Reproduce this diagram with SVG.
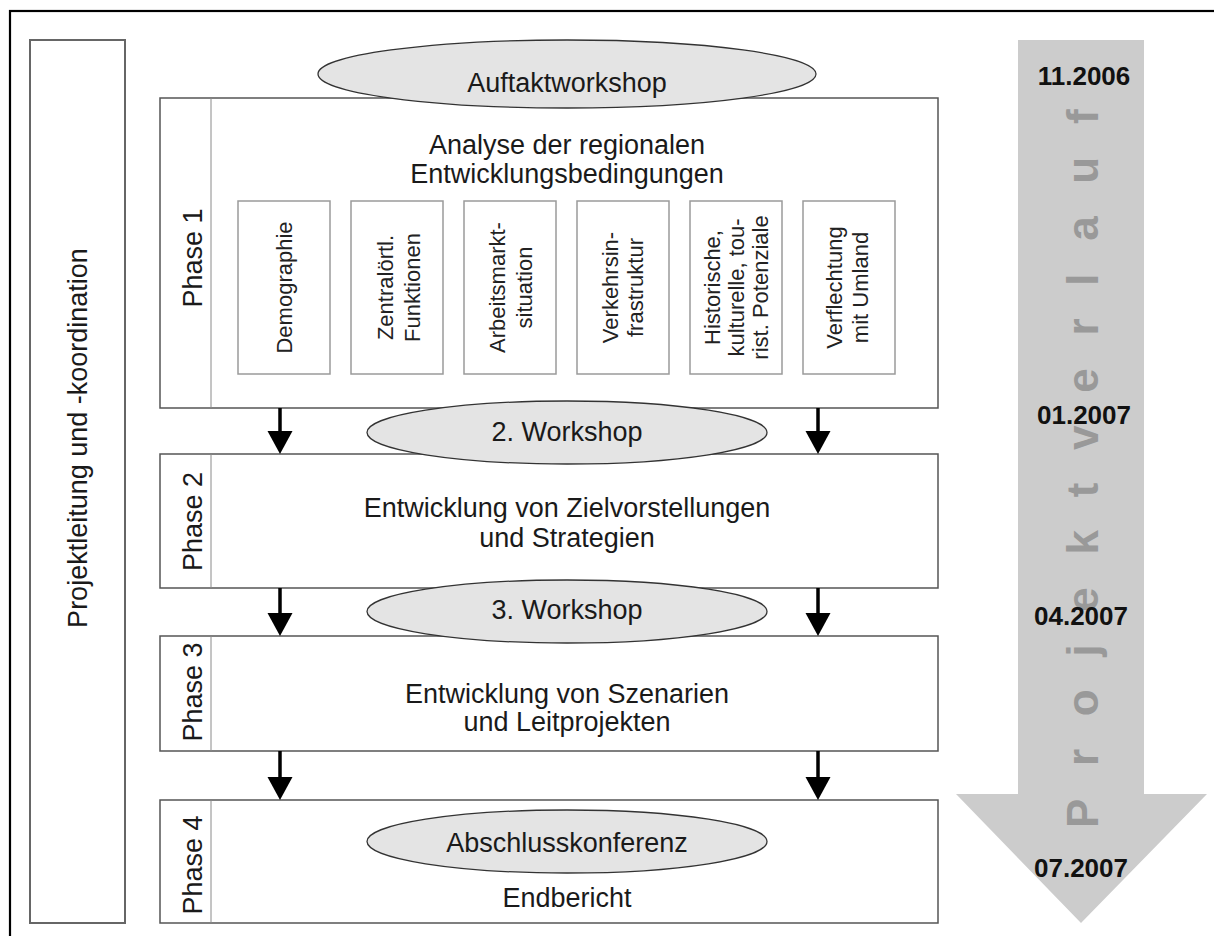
<svg xmlns="http://www.w3.org/2000/svg" width="1214" height="936" viewBox="0 0 1214 936">
<defs>
<style>
.t{font-family:"Liberation Sans",Arial,sans-serif;font-size:27px;fill:#1a1a1a;text-anchor:middle}
.s{font-family:"Liberation Sans",Arial,sans-serif;font-size:22px;fill:#222;text-anchor:middle}
.d{font-family:"Liberation Sans",Arial,sans-serif;font-size:26px;font-weight:bold;fill:#111;text-anchor:middle}
.pv{font-family:"Liberation Sans",Arial,sans-serif;font-size:44px;font-weight:bold;fill:#999;letter-spacing:32.7px}
.box{fill:#fff;stroke:#555;stroke-width:1.5}
.div{stroke:#8a8a8a;stroke-width:1}
.sub{fill:#fff;stroke:#9a9a9a;stroke-width:1.5}
.ell{fill:#e4e4e4;stroke:#333;stroke-width:1.3}
.arr{stroke:#000;stroke-width:3.5}
.head{fill:#000}
</style>
</defs>
<rect width="1214" height="936" fill="#fff"/>
<rect x="10" y="11" width="1220" height="940" fill="none" stroke="#000" stroke-width="2.2"/>

<g id="timeline">
<polygon points="1018,40 1144,40 1144,794 1207,794 1081,923 956,794 1018,794" fill="#cccccc"/>
<text class="pv" transform="translate(1098,828) rotate(-90)">Projektverlauf</text>
<text class="d" x="1084" y="85">11.2006</text>
<text class="d" x="1084" y="424">01.2007</text>
<text class="d" x="1081" y="625">04.2007</text>
<text class="d" x="1081" y="877">07.2007</text>
</g>

<g id="projektleitung">
<rect x="30" y="40" width="95" height="883" fill="#fff" stroke="#666" stroke-width="2"/>
<text class="t" transform="translate(87,438) rotate(-90)">Projektleitung und -koordination</text>
</g>

<g id="phase1">
<rect class="box" x="160" y="98" width="778" height="310"/>
<line class="div" x1="211" y1="98" x2="211" y2="408"/>
<text class="t" transform="translate(202,258) rotate(-90)">Phase 1</text>
<text class="t" x="567" y="153.5">Analyse der regionalen</text>
<text class="t" x="567" y="183">Entwicklungsbedingungen</text>
</g>

<g id="demographie">
<rect class="sub" x="238" y="201" width="92" height="173"/>
<text class="s" transform="translate(292,287.5) rotate(-90)">Demographie</text>
</g>
<g id="zentraloertl">
<rect class="sub" x="351" y="201" width="92" height="173"/>
<text class="s" transform="translate(393,287.5) rotate(-90)">Zentralörtl.</text>
<text class="s" transform="translate(420,287.5) rotate(-90)">Funktionen</text>
</g>
<g id="arbeitsmarkt">
<rect class="sub" x="464" y="201" width="92" height="173"/>
<text class="s" transform="translate(505,287.5) rotate(-90)">Arbeitsmarkt-</text>
<text class="s" transform="translate(532,287.5) rotate(-90)">situation</text>
</g>
<g id="verkehr">
<rect class="sub" x="577" y="201" width="92" height="173"/>
<text class="s" transform="translate(618,287.5) rotate(-90)">Verkehrsin-</text>
<text class="s" transform="translate(643,287.5) rotate(-90)">frastruktur</text>
</g>
<g id="historische">
<rect class="sub" x="690" y="201" width="92" height="173"/>
<text class="s" transform="translate(720,287.5) rotate(-90)">Historische,</text>
<text class="s" transform="translate(744,287.5) rotate(-90)">kulturelle, tou-</text>
<text class="s" transform="translate(768,287.5) rotate(-90)">rist. Potenziale</text>
</g>
<g id="verflechtung">
<rect class="sub" x="803" y="201" width="92" height="173"/>
<text class="s" transform="translate(842,287.5) rotate(-90)">Verflechtung</text>
<text class="s" transform="translate(868,287.5) rotate(-90)">mit Umland</text>
</g>

<g id="phase2">
<rect class="box" x="160" y="454" width="778" height="134"/>
<line class="div" x1="211" y1="454" x2="211" y2="588"/>
<text class="t" transform="translate(202,521.5) rotate(-90)">Phase 2</text>
<text class="t" x="567" y="517">Entwicklung von Zielvorstellungen</text>
<text class="t" x="567" y="547">und Strategien</text>
</g>

<g id="phase3">
<rect class="box" x="160" y="636" width="778" height="115"/>
<line class="div" x1="211" y1="636" x2="211" y2="751"/>
<text class="t" transform="translate(202,692) rotate(-90)">Phase 3</text>
<text class="t" x="567" y="702.5">Entwicklung von Szenarien</text>
<text class="t" x="567" y="731">und Leitprojekten</text>
</g>

<g id="phase4">
<rect class="box" x="160" y="800" width="778" height="123"/>
<line class="div" x1="211" y1="800" x2="211" y2="923"/>
<text class="t" transform="translate(202,865) rotate(-90)">Phase 4</text>
<text class="t" x="567" y="907">Endbericht</text>
</g>

<g id="connectors">
<line class="arr" x1="280" y1="408" x2="280" y2="433"/>
<polygon class="head" points="267.5,431 292.5,431 280,454"/>
<line class="arr" x1="818" y1="408" x2="818" y2="433"/>
<polygon class="head" points="805.5,431 830.5,431 818,454"/>
<line class="arr" x1="280" y1="588" x2="280" y2="615"/>
<polygon class="head" points="267.5,613 292.5,613 280,636"/>
<line class="arr" x1="818" y1="588" x2="818" y2="615"/>
<polygon class="head" points="805.5,613 830.5,613 818,636"/>
<line class="arr" x1="280" y1="751" x2="280" y2="779"/>
<polygon class="head" points="267.5,777 292.5,777 280,800"/>
<line class="arr" x1="818" y1="751" x2="818" y2="779"/>
<polygon class="head" points="805.5,777 830.5,777 818,800"/>
</g>

<g id="auftaktworkshop">
<ellipse class="ell" cx="567" cy="74" rx="249" ry="34"/>
<text class="t" x="567" y="91.5">Auftaktworkshop</text>
</g>
<g id="workshop2">
<ellipse class="ell" cx="567" cy="432.5" rx="200" ry="31.5"/>
<text class="t" x="567" y="440.5">2. Workshop</text>
</g>
<g id="workshop3">
<ellipse class="ell" cx="567" cy="611.5" rx="200" ry="31.5"/>
<text class="t" x="567" y="619">3. Workshop</text>
</g>
<g id="abschlusskonferenz">
<ellipse class="ell" cx="567" cy="841.5" rx="200" ry="31.5"/>
<text class="t" x="567" y="852">Abschlusskonferenz</text>
</g>
</svg>
